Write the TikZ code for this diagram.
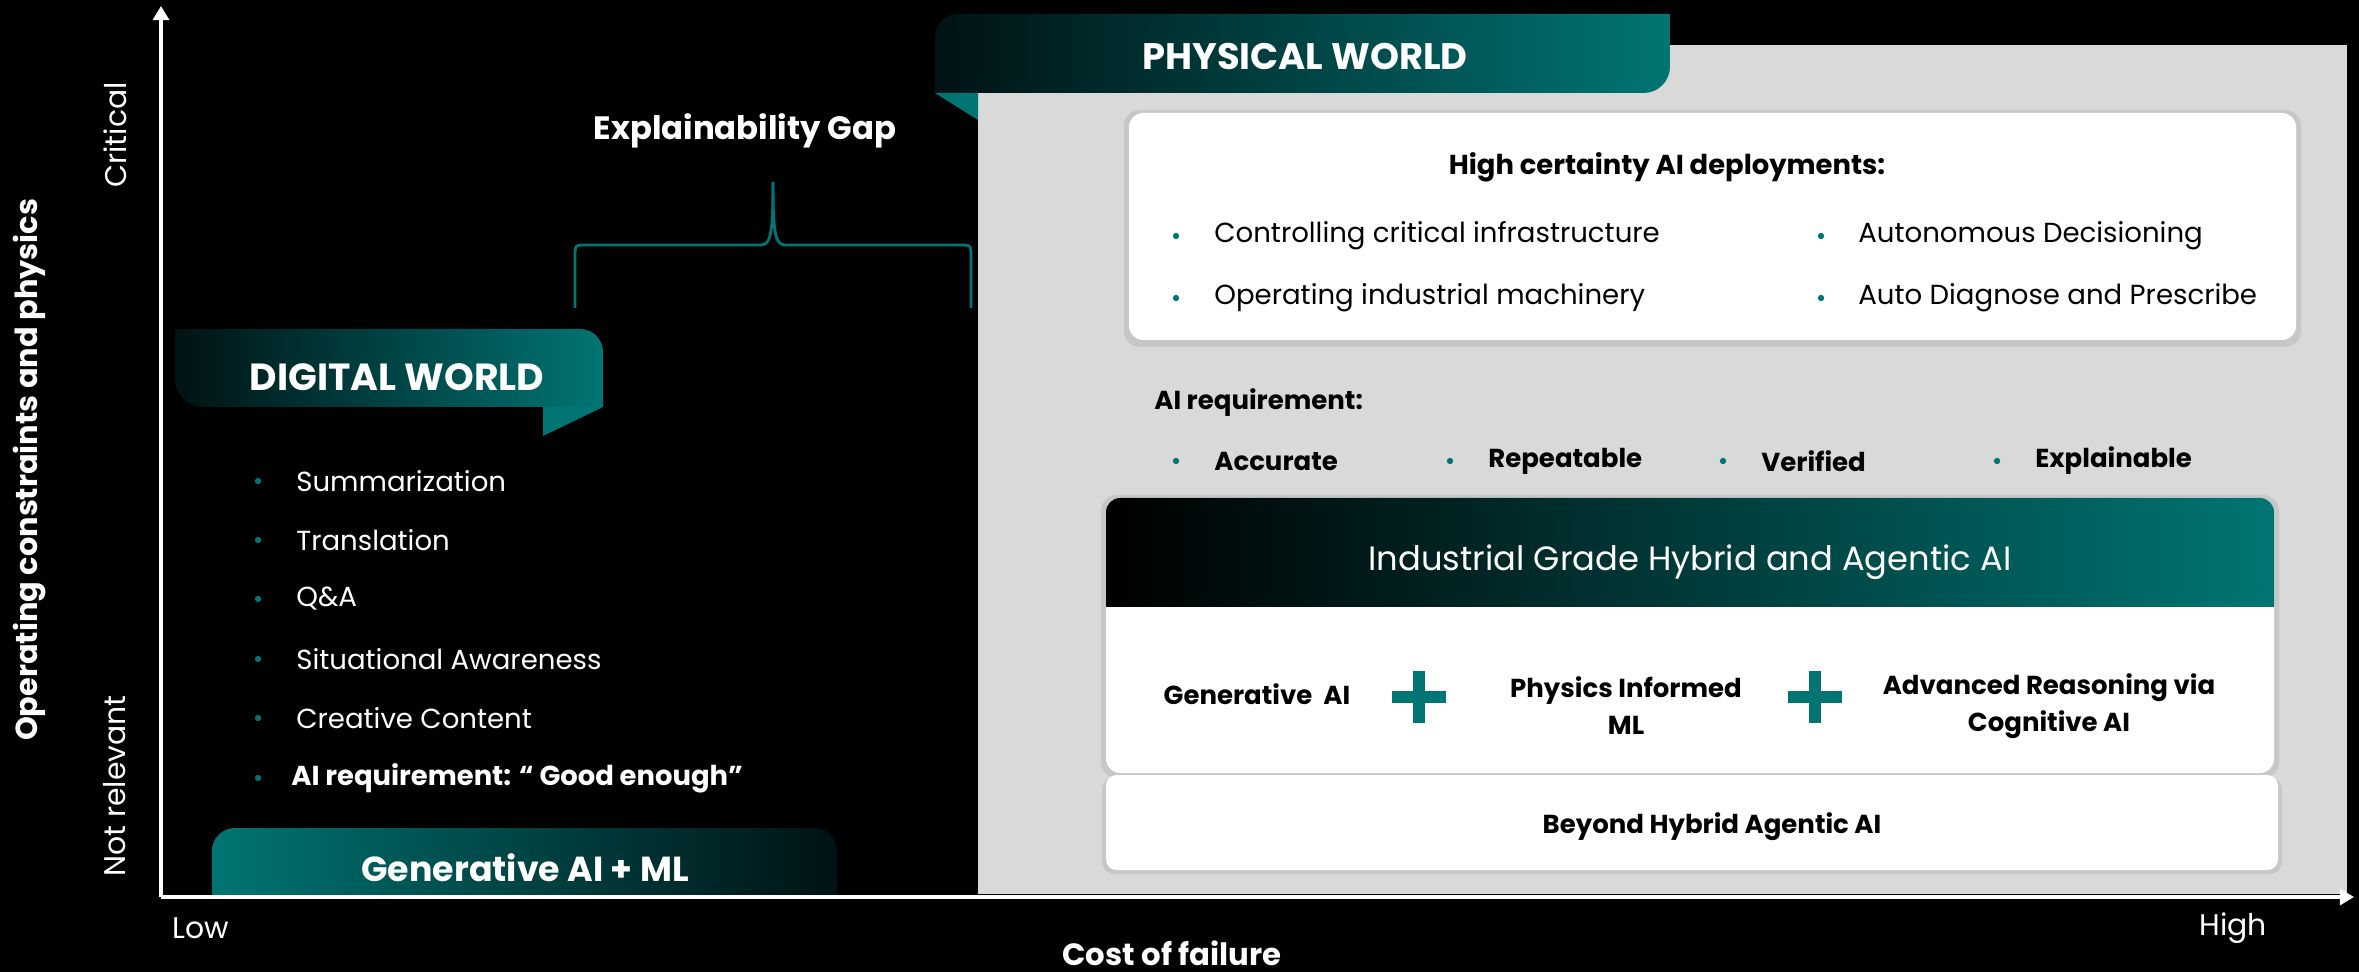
\documentclass[tikz,border=0pt]{standalone}
\usepackage{fontspec}
\setmainfont{Poppins}
\usetikzlibrary{arrows.meta}
\definecolor{tealA}{RGB}{0,117,115}
\definecolor{tealD}{RGB}{0,18,20}
\definecolor{paneG}{RGB}{217,217,217}
\tikzset{DOT/.style={circle,fill=tealA,inner sep=0pt,minimum size=3.6pt}}
\begin{document}
\begin{tikzpicture}[x=0.02cm,y=-0.02cm]
	\tikzstyle{W} = [text=white, inner sep=0pt]
	\tikzstyle{K} = [text=black, inner sep=0pt]
	\tikzstyle{body} = [font=\fontsize{15.7}{18}\selectfont]
	\tikzstyle{bodyB} = [font=\fontsize{14.8}{17}\selectfont\bfseries]
	\tikzstyle{axlab} = [font=\fontsize{17}{20}\selectfont]
	\tikzstyle{axis} = [white, line width=2pt, -{Triangle[width=9pt,length=8pt]}]
	
	\useasboundingbox (0,0) rectangle (2359,972);
	\fill[black] (0,0) rectangle (2359,972);
	\fill[paneG] (978,45) rectangle (2347,894);
	
	\shade[left color=tealD, right color=tealA] (935,93) [rounded corners=13pt] -- (935,14) [sharp corners] -- (1670,14) [rounded corners=15pt] -- (1670,93) [sharp corners] -- cycle;
	\fill[tealA] (935,93) -- (978,93) -- (978,120) -- cycle;
	\node[W, font=\fontsize{21}{25}\selectfont\bfseries] (phys) at (1305,57) {PHYSICAL WORLD};
	
	\fill[black, opacity=.08, rounded corners=9pt] (1124,110) rectangle (2301,347);
	\fill[white, rounded corners=8pt] (1129,113) rectangle (2296,340);
	\node[K, bodyB, font=\fontsize{15.6}{18}\selectfont\bfseries] (hc) at (1667,167) {High certainty AI deployments:};
	\node[DOT] (hcd1) at (1176,236) {};
	\node[K, body, anchor=west] (hc1) at (1214,236) {Controlling critical infrastructure};
	\node[DOT] (hcd2) at (1176,298) {};
	\node[K, body, anchor=west] (hc2) at (1214,298) {Operating industrial machinery};
	\node[DOT] (hcd3) at (1821,236) {};
	\node[K, body, anchor=west] (hc3) at (1858,236) {Autonomous Decisioning};
	\node[DOT] (hcd4) at (1821,298) {};
	\node[K, body, anchor=west] (hc4) at (1858,298) {Auto Diagnose and Prescribe};
	
	\node[K, bodyB, anchor=west] (req) at (1154,403) {AI requirement:};
	\foreach \x/\t [count=\i] in {1176/Accurate, 1450/Repeatable, 1723/Verified, 1997/Explainable}{
		\node[DOT] (rqd\i) at (\x,461) {};
		\node[K, bodyB, anchor=west] (rq\i) at (\x+38,461) {\t};
	}
	
	\fill[black, opacity=.08, rounded corners=9pt] (1101,495) rectangle (2279,778);
	\fill[white, rounded corners=8pt] (1106,498) rectangle (2274,773);
	\shade[left color=black, right color=tealA] (1106,607) [rounded corners=8pt] -- (1106,498) -- (2274,498) [sharp corners] -- (2274,607) -- cycle;
	\node[W, font=\fontsize{19.2}{22}\selectfont] (igh) at (1690,562) {Industrial Grade Hybrid and Agentic AI};
	\node[K, bodyB] (gen) at (1257,694) {Generative\ \ AI};
	\fill[tealA] (1413,671) rectangle (1425,723);
	\fill[tealA] (1392,691) rectangle (1446,703);
	\node[K, bodyB, align=center] (pin) at (1626,706) {Physics Informed\\[4pt]ML};
	\fill[tealA] (1809,671) rectangle (1821,723);
	\fill[tealA] (1788,691) rectangle (1842,703);
	\node[K, bodyB, align=center] (cog) at (2049,706) {Advanced Reasoning via\\[4pt]Cognitive AI};
	
	\fill[black, opacity=.08, rounded corners=7pt] (1102,777) rectangle (2282,874);
	\fill[white, rounded corners=6pt] (1106,775) rectangle (2278,870);
	\node[K, bodyB] (bey) at (1712,827) {Beyond Hybrid Agentic AI};
	
	\shade[left color=tealD, right color=tealA] (175,329) [rounded corners=13pt] -- (603,329) [sharp corners] -- (603,407) [rounded corners=16pt] -- (175,407) [sharp corners] -- cycle;
	\fill[tealA] (543,407) -- (603,407) -- (543,436) -- cycle;
	\node[W, font=\fontsize{21.5}{25}\selectfont\bfseries] (dig) at (397,377) {DIGITAL WORLD};
	
	\foreach \y/\t [count=\i] in {481/Summarization, 540/Translation, 599/Q\&A, 659/Situational Awareness, 718/Creative Content}{
		\node[DOT] (dgd\i) at (258,\y) {};
		\node[W, body, anchor=west] (dg\i) at (296,\y) {\t};
	}
	\node[DOT] (dgd6) at (258,778) {};
	\node[W, bodyB, font=\fontsize{15.6}{18}\selectfont\bfseries, anchor=west] (dg6) at (291,778) {AI requirement: “ Good enough”};
	
	\node[W, font=\fontsize{18.4}{21}\selectfont\bfseries] (gap) at (745,131) {Explainability Gap};
	\draw[tealA, line width=1.6pt] (575,308) -- (575,257) .. controls (575,245) .. (587,245) -- (761,245) .. controls (771,245) and (773,232) .. (773,182);
	\draw[tealA, line width=1.6pt] (971,308) -- (971,257) .. controls (971,245) .. (959,245) -- (785,245) .. controls (775,245) and (773,232) .. (773,182);
	
	\shade[left color=tealA, right color=tealD] (212,897) [rounded corners=13pt] -- (212,828) -- (837,828) [sharp corners] -- (837,897) -- cycle;
	\node[W, font=\fontsize{19.8}{23}\selectfont\bfseries] (gml) at (525,868) {Generative AI + ML};
	
	\coordinate (O) at (161,897);
	\coordinate (Ytop) at (161,6);
	\coordinate (Xend) at (2354,897);
	\draw[axis] (O) -- (Ytop);
	\draw[axis] (O) -- (Xend);
	
	\node[W, axlab, rotate=90] (crit) at (115,135) {Critical};
	\node[W, axlab, rotate=90] (notr) at (115,786) {Not relevant};
	\node[W, font=\fontsize{17.3}{20}\selectfont\bfseries, rotate=90] (ylab) at (30,470) {Operating constraints and physics};
	\node[W, axlab] (low) at (201,928) {Low};
	\node[W, axlab] (high) at (2233,928) {High};
	\node[W, font=\fontsize{17.5}{20}\selectfont\bfseries] (xlab) at (1172,953) {Cost of failure};
\end{tikzpicture}
\end{document}
